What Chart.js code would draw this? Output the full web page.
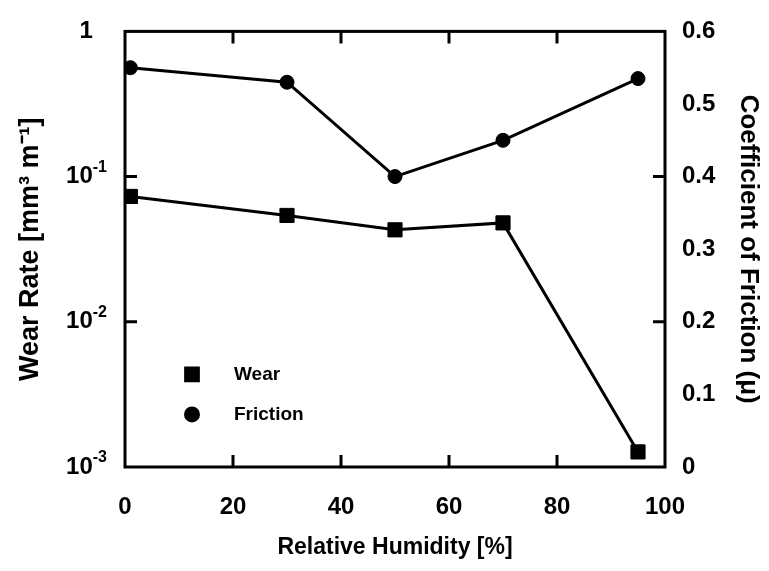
<!DOCTYPE html>
<html>
<head>
<meta charset="utf-8">
<script src="https://cdn.jsdelivr.net/npm/chart.js@4.4.1/dist/chart.umd.min.js"></script>
<style>
html, body { margin: 0; padding: 0; background: #fff; }
#wrap { width: 769px; height: 571px; position: relative; }
</style>
</head>
<body>
<div id="wrap"><canvas id="wearChart"></canvas></div>
<script>
// data
const humidity = [1, 30, 50, 70, 95];
const wearRate = [0.073, 0.054, 0.043, 0.048, 0.00127];
const friction = [0.55, 0.53, 0.40, 0.45, 0.535];

const xTicks = [0, 20, 40, 60, 80, 100];
const wearTicks = [0.001, 0.01, 0.1, 1];
const wearTickBase = ["10", "10", "10", "1"];
const wearTickExp = ["-3", "-2", "-1", ""];
const frictionTicks = [0, 0.1, 0.2, 0.3, 0.4, 0.5, 0.6];
const frameTicksX = [20, 40, 60, 80];
const frameTicksY = [0.01, 0.1];

const FONT = "'Liberation Sans', Arial, Helvetica, sans-serif";

const framePlugin = {
    id: "frame",
    afterDatasetsDraw(chart) {
        const ctx = chart.ctx;
        const a = chart.chartArea;
        const xs = chart.scales.x;
        const ys = chart.scales.y;
        ctx.save();
        ctx.strokeStyle = "#000";
        ctx.lineWidth = 3;
        ctx.strokeRect(a.left, a.top, a.right - a.left, a.bottom - a.top);

        // inward ticks
        const tl = 12;
        ctx.beginPath();
        frameTicksX.forEach(v => {
            const px = xs.getPixelForValue(v);
            ctx.moveTo(px, a.bottom); ctx.lineTo(px, a.bottom - tl);
            ctx.moveTo(px, a.top); ctx.lineTo(px, a.top + tl);
        });
        frameTicksY.forEach(v => {
            const py = ys.getPixelForValue(v);
            ctx.moveTo(a.left, py); ctx.lineTo(a.left + tl, py);
            ctx.moveTo(a.right, py); ctx.lineTo(a.right - tl, py);
        });
        ctx.stroke();

        // left tick labels with superscript exponents
        ctx.fillStyle = "#000";
        ctx.textBaseline = "middle";
        ctx.font = "bold 16px " + FONT;
        const ew = ctx.measureText("-1").width;
        wearTicks.forEach((v, i) => {
            const py = ys.getPixelForValue(v);
            const right = a.left - 18;
            ctx.textAlign = "left";
            ctx.font = "bold 16px " + FONT;
            ctx.fillText(wearTickExp[i], right - ew, py - 9);
            ctx.textAlign = "right";
            ctx.font = "bold 24px " + FONT;
            ctx.fillText(wearTickBase[i], right - ew, py);
        });

        // legend inside the plot
        const lx = a.left + 67;
        const tx = a.left + 109;
        ctx.font = "bold 19px " + FONT;
        ctx.textAlign = "left";
        chart.data.datasets.forEach((ds, i) => {
            const ly = a.top + 343 + i * 40;
            Chart.helpers.drawPoint(ctx, {
                pointStyle: ds.pointStyle,
                radius: ds.pointStyle === "rect" ? 9 : 6.5,
                borderWidth: 1
            }, lx, ly);
            ctx.fill();
            ctx.fillText(ds.label, tx, ly);
        });
        ctx.restore();
    }
};

const ctx = document.getElementById("wearChart").getContext("2d");

new Chart(ctx, {
    type: "line",
    data: {
        datasets: [
            {
                label: "Wear",
                data: humidity.map((h, i) => ({ x: h, y: wearRate[i] })),
                yAxisID: "y",
                borderColor: "#000",
                backgroundColor: "#000",
                borderWidth: 3,
                pointStyle: "rect",
                pointRadius: 10,
                pointBorderWidth: 1,
                pointBackgroundColor: "#000",
                tension: 0
            },
            {
                label: "Friction",
                data: humidity.map((h, i) => ({ x: h, y: friction[i] })),
                yAxisID: "y2",
                borderColor: "#000",
                backgroundColor: "#000",
                borderWidth: 3,
                pointStyle: "circle",
                pointRadius: 7,
                pointBorderWidth: 1,
                pointBackgroundColor: "#000",
                tension: 0
            }
        ]
    },
    options: {
        responsive: true,
        maintainAspectRatio: false,
        animation: false,
        layout: { padding: { top: 24 } },
        plugins: { legend: { display: false }, tooltip: { enabled: false } },
        scales: {
            x: {
                type: "linear",
                min: 0, max: 100,
                afterBuildTicks: s => { s.ticks = xTicks.map(v => ({ value: v })); },
                afterFit: s => { s.height = 104; },
                grid: { display: false, drawTicks: false },
                border: { display: false },
                ticks: { color: "#000", font: { family: FONT, size: 24, weight: "bold" }, padding: 26, maxRotation: 0 },
                title: { display: true, text: "Relative Humidity [%]", color: "#000",
                         font: { family: FONT, size: 23, weight: "bold" }, padding: { top: 0, bottom: 10 } }
            },
            y: {
                type: "logarithmic",
                position: "left",
                min: 0.001, max: 1,
                afterBuildTicks: s => { s.ticks = wearTicks.map(v => ({ value: v })); },
                afterFit: s => { s.width = 125; },
                grid: { display: false, drawTicks: false },
                border: { display: false },
                ticks: { display: false },
                title: { display: true, text: "Wear Rate [mm\u00B3 m\u207B\u00B9]", color: "#000",
                         font: { family: FONT, size: 27, weight: "bold" }, padding: { top: 14 } }
            },
            y2: {
                type: "linear",
                position: "right",
                min: 0, max: 0.6,
                afterBuildTicks: s => { s.ticks = frictionTicks.map(v => ({ value: v })); },
                afterFit: s => { s.width = 104; },
                grid: { display: false, drawTicks: false },
                border: { display: false },
                ticks: { color: "#000", font: { family: FONT, size: 24, weight: "bold" }, padding: 17,
                         callback: v => String(Math.round(v * 10) / 10) },
                title: { display: true, text: "Coefficient of Friction (\u03BC)", color: "#000",
                         font: { family: FONT, size: 26, weight: "bold" }, padding: { top: 5 } }
            }
        }
    },
    plugins: [framePlugin]
});
</script>
</body>
</html>
